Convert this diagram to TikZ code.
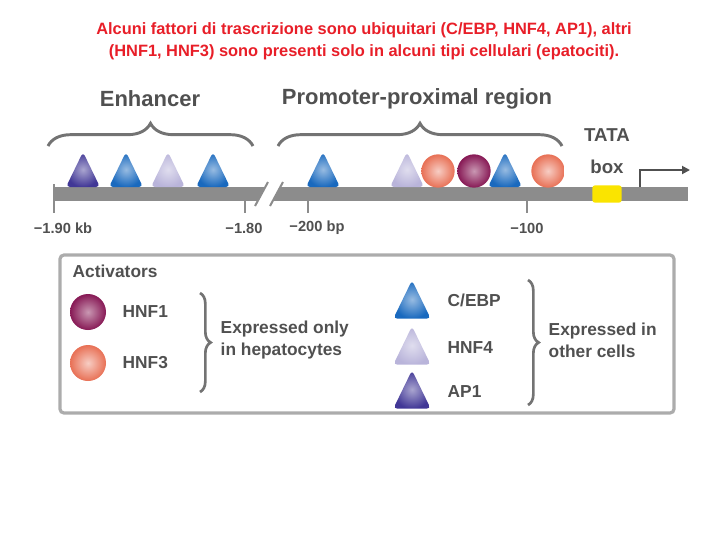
\documentclass[tikz,border=0pt]{standalone}
\usepackage{fontspec}
\setmainfont{Liberation Sans}
\usetikzlibrary{decorations.pathreplacing,arrows.meta}
\definecolor{txt}{RGB}{80,80,80}
\definecolor{bargray}{RGB}{140,140,140}
\definecolor{bracegray}{RGB}{115,115,115}
\definecolor{cebp}{RGB}{25,105,190}
\definecolor{hnffour}{RGB}{185,180,218}
\definecolor{apone}{RGB}{65,55,150}
\definecolor{hnfone}{RGB}{135,25,85}
\definecolor{hnfthree}{RGB}{232,112,85}
\definecolor{titlered}{RGB}{232,30,40}
\definecolor{tatayellow}{RGB}{250,228,0}
\tikzset{
  pics/tri/.style={code={
    \shade[inner color=#1!45!white, outer color=#1, rounded corners=3pt]
      (-17,17) -- (0,-18) -- (17,17) -- cycle;}},
  dot/.style={circle, minimum size=#1, inner sep=0pt},
  onedot/.style={dot=#1, inner color=hnfone!45!white, outer color=hnfone},
  threedot/.style={dot=#1, inner color=hnfthree!35!white, outer color=hnfthree},
  bigbrace/.style={decorate, decoration={brace, amplitude=17pt}, draw=bracegray, line width=2.2pt},
  legbrace/.style={decorate, decoration={brace, amplitude=8pt}, draw=bracegray, line width=2pt},
  tickline/.style={draw=bargray, line width=1.5pt},
  head/.style={font=\bfseries\fontsize{16.5}{18}\selectfont, text=txt},
  poslabel/.style={font=\bfseries\fontsize{11}{12}\selectfont, text=txt},
  leg/.style={font=\bfseries\fontsize{13}{16.5}\selectfont, text=txt},
}
\begin{document}
\begin{tikzpicture}[x=0.75pt,y=-0.75pt]
\useasboundingbox (0,0) rectangle (720,540);
% title
\node[font=\bfseries\fontsize{12.3}{16.5}\selectfont, text=titlered, align=center] (title) at (364,41)
  {Alcuni fattori di trascrizione sono ubiquitari (C/EBP, HNF4, AP1), altri\\(HNF1, HNF3) sono presenti solo in alcuni tipi cellulari (epatociti).};
% headers
\node[head] (enh) at (150,99) {Enhancer};
\node[head] (prom) at (417,99) {Promoter-proximal region};
\draw[bigbrace] (48,146) -- (253,146);
\draw[bigbrace] (278,146) -- (562,146);
% DNA bar
\fill[bargray] (55,187) rectangle (688,201);
\fill[white] (255,206) -- (268,182) -- (283,182) -- (270,206) -- cycle;
\draw[tickline] (255,206) -- (268,182) (270,206) -- (283,182);
% ticks
\draw[tickline] (54,184) -- (54,213);
\draw[tickline] (245,201) -- (245,213);
\draw[tickline] (308,201) -- (308,213);
\draw[tickline] (527,201) -- (527,213);
\node[poslabel] (p1) at (63,228) {−1.90 kb};
\node[poslabel] (p2) at (244,228) {−1.80};
\node[poslabel] (p3) at (317,228) {−200 bp};
\node[poslabel] (p4) at (527,228) {−100};
% factors on DNA
\pic at (83,170) {tri=apone};
\pic at (126,170) {tri=cebp};
\pic at (168,170) {tri=hnffour};
\pic at (213,170) {tri=cebp};
\pic at (323,170) {tri=cebp};
\pic at (407,170) {tri=hnffour};
\node[threedot=25pt] (f1) at (438,171) {};
\node[onedot=25pt] (f2) at (474,171) {};
\pic at (505,170) {tri=cebp};
\node[threedot=25pt] (f3) at (548,171) {};
% TATA
\node[font=\bfseries\fontsize{14}{24}\selectfont, text=txt, align=center] (tata) at (607,151) {TATA\\box};
\node[fill=tatayellow, rounded corners=2pt, minimum width=22pt, minimum height=13pt, inner sep=0pt] (tbox) at (607,194) {};
\coordinate (tss) at (640,187);
\coordinate (tssend) at (690,170);
\draw[txt, line width=1.4pt, -{Triangle[length=6pt,width=6pt]}] (tss) |- (tssend);
% legend
\draw[line width=2.4pt, draw=gray!65, rounded corners=3pt] (60,255) rectangle (674,413);
\node[leg, anchor=west] (act) at (68,271) {Activators};
\node[onedot=27pt] (l1) at (88,312) {};
\node[threedot=27pt] (l3) at (88,363) {};
\node[leg, anchor=west] (t1) at (118,312) {HNF1};
\node[leg, anchor=west] (t3) at (118,363) {HNF3};
\draw[legbrace] (200,293) -- (200,392);
\node[leg, anchor=west, align=left] (hep) at (216,340) {Expressed only\\in hepatocytes};
\pic[scale=1.1] at (412,300) {tri=cebp};
\pic[scale=1.1] at (412,346) {tri=hnffour};
\pic[scale=1.1] at (412,390) {tri=apone};
\node[leg, anchor=west] (t4) at (443,300) {C/EBP};
\node[leg, anchor=west] (t5) at (443,348) {HNF4};
\node[leg, anchor=west] (t6) at (443,392) {AP1};
\draw[legbrace] (528,280) -- (528,405);
\node[leg, anchor=west, align=left] (oth) at (544,340) {Expressed in\\other cells};
\end{tikzpicture}
\end{document}
